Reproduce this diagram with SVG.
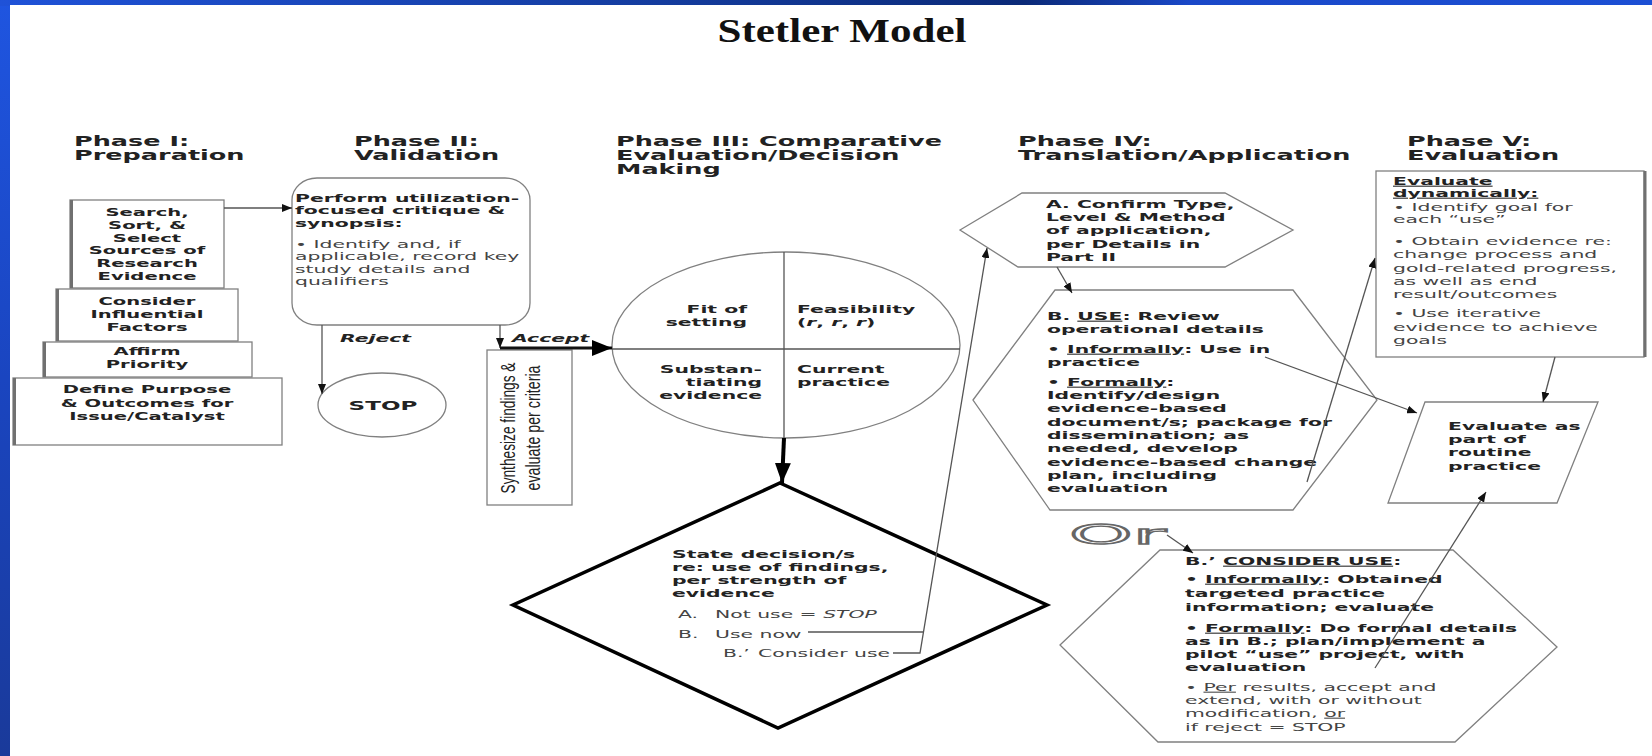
<svg xmlns="http://www.w3.org/2000/svg" width="1652" height="756" viewBox="0 0 1652 756">
<defs>
<linearGradient id="gTop" x1="0" y1="0" x2="1" y2="0">
<stop offset="0" stop-color="#1f52d8"/><stop offset="0.4" stop-color="#143c9e"/><stop offset="0.62" stop-color="#0b2a78"/><stop offset="0.72" stop-color="#1a48c8"/><stop offset="1" stop-color="#1c4fd4"/>
</linearGradient>
<linearGradient id="gLeft" x1="0" y1="0" x2="0" y2="1">
<stop offset="0" stop-color="#1f55e0"/><stop offset="0.5" stop-color="#1a45c0"/><stop offset="1" stop-color="#1a3a9a"/>
</linearGradient>
<marker id="ah" viewBox="0 0 10 8" refX="10" refY="4" markerWidth="10" markerHeight="8" orient="auto" markerUnits="userSpaceOnUse">
<path d="M0,0 L10,4 L0,8 z" fill="#111"/>
</marker>
<marker id="ahb" viewBox="0 0 20 16" refX="20" refY="8" markerWidth="20" markerHeight="16" orient="auto" markerUnits="userSpaceOnUse">
<path d="M0,0 L20,8 L0,16 z" fill="#000"/>
</marker>
<style>
.sh{fill:#fff;stroke:#808080;stroke-width:1.3}
.shadow{stroke:#707070;stroke-width:3}
.h{font-family:"DejaVu Sans",sans-serif;font-weight:bold;font-size:13.3px;fill:#222}
.b{font-family:"DejaVu Sans",sans-serif;font-weight:bold;font-size:10.6px;fill:#222}
.r{font-family:"DejaVu Sans",sans-serif;font-size:10.6px;fill:#444}
.p1{font-family:"DejaVu Sans",sans-serif;font-weight:bold;font-size:10.2px;fill:#222}
.ln{fill:none;stroke:#555;stroke-width:1.3}
.u{text-decoration:underline}
</style>
</defs>

<rect x="0" y="0" width="1652" height="756" fill="url(#gLeft)"/>
<rect x="0" y="0" width="1652" height="6" fill="url(#gTop)"/>
<rect x="10" y="5" width="1642" height="751" fill="#fff"/>

<text id="title" x="842" y="42" text-anchor="middle" font-family="Liberation Serif, serif" font-weight="bold" font-size="34" textLength="249" lengthAdjust="spacingAndGlyphs" fill="#111">Stetler Model</text>

<g id="headings">
<text class="h" transform="translate(74,0) scale(1.92,1)"><tspan x="0" y="146">Phase I:</tspan><tspan x="0" y="160">Preparation</tspan></text>
<text class="h" transform="translate(354,0) scale(1.92,1)"><tspan x="0" y="146">Phase II:</tspan><tspan x="0" y="160">Validation</tspan></text>
<text class="h" transform="translate(616,0) scale(1.92,1)"><tspan x="0" y="146">Phase III: Comparative</tspan><tspan x="0" y="160">Evaluation/Decision</tspan><tspan x="0" y="174">Making</tspan></text>
<text class="h" transform="translate(1018,0) scale(1.92,1)"><tspan x="0" y="146">Phase IV:</tspan><tspan x="0" y="160">Translation/Application</tspan></text>
<text class="h" transform="translate(1407,0) scale(1.92,1)"><tspan x="0" y="146">Phase V:</tspan><tspan x="0" y="160">Evaluation</tspan></text>
</g>

<g id="phase1-search">
<rect class="sh" x="70" y="200" width="154" height="88"/>
<line class="shadow" x1="71.5" y1="200" x2="71.5" y2="288"/>
<text class="p1" text-anchor="middle" transform="translate(147,0) scale(1.92,1)"><tspan x="0" y="216">Search,</tspan><tspan x="0" y="229">Sort, &amp;</tspan><tspan x="0" y="242">Select</tspan><tspan x="0" y="254">Sources of</tspan><tspan x="0" y="267">Research</tspan><tspan x="0" y="280">Evidence</tspan></text>
</g>
<g id="phase1-consider">
<rect class="sh" x="56" y="289" width="182" height="52"/>
<line class="shadow" x1="57.5" y1="289" x2="57.5" y2="341"/>
<text class="p1" text-anchor="middle" transform="translate(147,0) scale(1.92,1)"><tspan x="0" y="305">Consider</tspan><tspan x="0" y="318">Influential</tspan><tspan x="0" y="331">Factors</tspan></text>
</g>
<g id="phase1-affirm">
<rect class="sh" x="43" y="342" width="209" height="35"/>
<line class="shadow" x1="44.5" y1="342" x2="44.5" y2="377"/>
<text class="p1" text-anchor="middle" transform="translate(147,0) scale(1.92,1)"><tspan x="0" y="355">Affirm</tspan><tspan x="0" y="368">Priority</tspan></text>
</g>
<g id="phase1-define">
<rect class="sh" x="13" y="378" width="269" height="67"/>
<line class="shadow" x1="14.5" y1="378" x2="14.5" y2="445"/>
<text class="p1" text-anchor="middle" transform="translate(147,0) scale(1.92,1)"><tspan x="0" y="393">Define Purpose</tspan><tspan x="0" y="407">&amp; Outcomes for</tspan><tspan x="0" y="420">Issue/Catalyst</tspan></text>
</g>

<g id="phase2-critique">
<rect class="sh" x="292" y="178" width="238" height="147" rx="25" ry="22"/>
<text class="b" transform="translate(295,0) scale(1.92,1)"><tspan x="0" y="202">Perform utilization-</tspan><tspan x="0" y="214.5">focused critique &amp;</tspan><tspan x="0" y="227">synopsis:</tspan></text>
<text class="r" transform="translate(295,0) scale(1.92,1)"><tspan x="0" y="248">• Identify and, if</tspan><tspan x="0" y="260.5">applicable, record key</tspan><tspan x="0" y="273">study details and</tspan><tspan x="0" y="285.5">qualifiers</tspan></text>
</g>

<g id="phase2-stop">
<ellipse class="sh" cx="382" cy="405" rx="64" ry="32"/>
<text class="b" text-anchor="middle" transform="translate(383,0) scale(1.92,1)" y="410" style="font-size:12px">STOP</text>
</g>

<g id="synthesize">
<rect class="sh" x="487" y="350" width="85" height="155"/>
<text font-family="Liberation Sans, Arial, sans-serif" font-size="11" fill="#222" text-anchor="middle" transform="translate(515,428) scale(1.92,1) rotate(-90)"><tspan x="0" y="0" textLength="131" lengthAdjust="spacingAndGlyphs">Synthesize findings &amp;</tspan><tspan x="0" y="13" textLength="125" lengthAdjust="spacingAndGlyphs">evaluate per criteria</tspan></text>
</g>

<g id="phase3-criteria">
<ellipse class="sh" cx="786" cy="345" rx="174" ry="93"/>
<line class="ln" x1="784" y1="252" x2="784" y2="438" stroke="#777"/>
<line class="ln" x1="612" y1="349" x2="960" y2="349" stroke="#777"/>
<text class="b" text-anchor="end" transform="translate(747,0) scale(1.92,1)"><tspan x="0" y="313">Fit of</tspan><tspan x="0" y="326">setting</tspan></text>
<text class="b" transform="translate(797,0) scale(1.92,1)"><tspan x="0" y="313">Feasibility</tspan><tspan x="0" y="326">(<tspan font-style="italic">r</tspan>, <tspan font-style="italic">r</tspan>, <tspan font-style="italic">r</tspan>)</tspan></text>
<text class="b" text-anchor="end" transform="translate(762,0) scale(1.92,1)"><tspan x="0" y="373">Substan-</tspan><tspan x="0" y="386">tiating</tspan><tspan x="0" y="399">evidence</tspan></text>
<text class="b" transform="translate(797,0) scale(1.92,1)"><tspan x="0" y="373">Current</tspan><tspan x="0" y="386">practice</tspan></text>
</g>

<g id="phase3-decision">
<polygon points="780,483 1047,605 778,728 513,605" fill="#fff" stroke="#000" stroke-width="3.5" stroke-linejoin="miter"/>
<text class="b" transform="translate(672,0) scale(1.92,1)"><tspan x="0" y="558">State decision/s</tspan><tspan x="0" y="571">re: use of findings,</tspan><tspan x="0" y="584">per strength of</tspan><tspan x="0" y="597">evidence</tspan></text>
<text class="r" transform="translate(678,0) scale(1.92,1)"><tspan x="0" y="618">A.</tspan><tspan x="19.3" y="618">Not use = <tspan font-style="italic">STOP</tspan></tspan><tspan x="0" y="638">B.</tspan><tspan x="19.3" y="638">Use now</tspan><tspan x="23.4" y="657">B.’</tspan><tspan x="41.7" y="657">Consider use</tspan></text>
</g>

<g id="phase4-confirm">
<polygon class="sh" points="960,230 1022,193 1225,193 1293,230 1225,267 1018,267"/>
<text class="b" transform="translate(1046,0) scale(1.92,1)"><tspan x="0" y="208">A. Confirm Type,</tspan><tspan x="0" y="221">Level &amp; Method</tspan><tspan x="0" y="234.5">of application,</tspan><tspan x="0" y="248">per Details in</tspan><tspan x="0" y="261">Part II</tspan></text>
</g>

<g id="phase4-use">
<polygon class="sh" points="973,400 1055,290 1293,290 1377,400 1293,510 1050,510"/>
<text class="b" transform="translate(1047,0) scale(1.92,1)"><tspan x="0" y="320">B. <tspan class="u">USE</tspan>: Review</tspan><tspan x="0" y="333">operational details</tspan><tspan x="0" y="353">• <tspan class="u">Informally</tspan>: Use in</tspan><tspan x="0" y="366">practice</tspan><tspan x="0" y="386">• <tspan class="u">Formally</tspan>:</tspan><tspan x="0" y="399">Identify/design</tspan><tspan x="0" y="412.5">evidence-based</tspan><tspan x="0" y="426">document/s; package for</tspan><tspan x="0" y="439">dissemination; as</tspan><tspan x="0" y="452.5">needed, develop</tspan><tspan x="0" y="466">evidence-based change</tspan><tspan x="0" y="479">plan, including</tspan><tspan x="0" y="492.5">evaluation</tspan></text>
</g>

<g id="or-label">
<text x="1069" y="544" font-family="DejaVu Sans, sans-serif" font-size="27" fill="#fff" stroke="#666" stroke-width="1.3" textLength="97" lengthAdjust="spacingAndGlyphs">Or</text>
</g>

<g id="phase4-consider">
<polygon class="sh" points="1060,645 1160,550 1453,550 1557,647 1455,742 1158,742"/>
<text class="b" transform="translate(1185,0) scale(1.92,1)"><tspan x="0" y="565">B.’  <tspan class="u">CONSIDER USE</tspan>:</tspan><tspan x="0" y="583">• <tspan class="u">Informally</tspan>: Obtained</tspan><tspan x="0" y="597">targeted practice</tspan><tspan x="0" y="611">information; evaluate</tspan><tspan x="0" y="632">• <tspan class="u">Formally</tspan>: Do formal details</tspan><tspan x="0" y="645">as in B.; plan/implement a</tspan><tspan x="0" y="658">pilot “use” project, with</tspan><tspan x="0" y="671">evaluation</tspan></text>
<text class="r" transform="translate(1185,0) scale(1.92,1)"><tspan x="0" y="691">• <tspan class="u">Per</tspan> results, accept and</tspan><tspan x="0" y="704">extend, with or without</tspan><tspan x="0" y="717">modification, <tspan class="u">or</tspan></tspan><tspan x="0" y="731">if reject = STOP</tspan></text>
</g>

<g id="phase5-dynamic">
<rect class="sh" x="1376" y="171" width="268" height="186"/>
<line class="shadow" x1="1645" y1="171" x2="1645" y2="357"/>
<text class="b" transform="translate(1393,0) scale(1.92,1)"><tspan x="0" y="185" class="u">Evaluate</tspan><tspan x="0" y="197" class="u">dynamically:</tspan></text>
<text class="r" transform="translate(1393,0) scale(1.92,1)"><tspan x="0" y="211">• Identify goal for</tspan><tspan x="0" y="223">each “use”</tspan><tspan x="0" y="245">• Obtain evidence  re:</tspan><tspan x="0" y="258">change process and</tspan><tspan x="0" y="272">gold-related progress,</tspan><tspan x="0" y="285">as well as end</tspan><tspan x="0" y="298">result/outcomes</tspan><tspan x="0" y="317">• Use iterative</tspan><tspan x="0" y="331">evidence to achieve</tspan><tspan x="0" y="344">goals</tspan></text>
</g>

<g id="phase5-routine">
<polygon class="sh" points="1425,402 1598,402 1557,503 1388,503"/>
<text class="b" transform="translate(1448,0) scale(1.92,1)"><tspan x="0" y="430">Evaluate as</tspan><tspan x="0" y="443">part of</tspan><tspan x="0" y="456">routine</tspan><tspan x="0" y="470">practice</tspan></text>
</g>

<g id="connectors">
<line class="ln" x1="224" y1="208" x2="292" y2="208" marker-end="url(#ah)"/>
<line class="ln" x1="322" y1="325" x2="322" y2="394" marker-end="url(#ah)"/>
<line class="ln" x1="500" y1="325" x2="500" y2="348" marker-end="url(#ah)"/>
<line x1="500" y1="348" x2="612" y2="348" stroke="#111" stroke-width="3" marker-end="url(#ahb)"/>
<line x1="784" y1="438" x2="782" y2="483" stroke="#000" stroke-width="4" marker-end="url(#ahb)"/>
<polyline class="ln" points="893,653 920,653 987,248" marker-end="url(#ah)"/>
<line class="ln" x1="808" y1="632" x2="923.5" y2="632"/>
<line class="ln" x1="1057" y1="267" x2="1072" y2="293" marker-end="url(#ah)"/>
<line class="ln" x1="1265" y1="357" x2="1417" y2="413" marker-end="url(#ah)"/>
<line class="ln" x1="1307" y1="482" x2="1375" y2="258" marker-end="url(#ah)"/>
<line class="ln" x1="1555" y1="357" x2="1543" y2="402" marker-end="url(#ah)"/>
<line class="ln" x1="1375" y1="668" x2="1486" y2="492" marker-end="url(#ah)"/>
<line class="ln" x1="1167" y1="535" x2="1193" y2="553" marker-end="url(#ah)"/>
<text transform="translate(340,0) scale(1.92,1)" y="342" class="b" font-style="italic">Reject</text>
<text transform="translate(512,0) scale(1.92,1)" y="342" class="b" font-style="italic">Accept</text>
</g>
</svg>
